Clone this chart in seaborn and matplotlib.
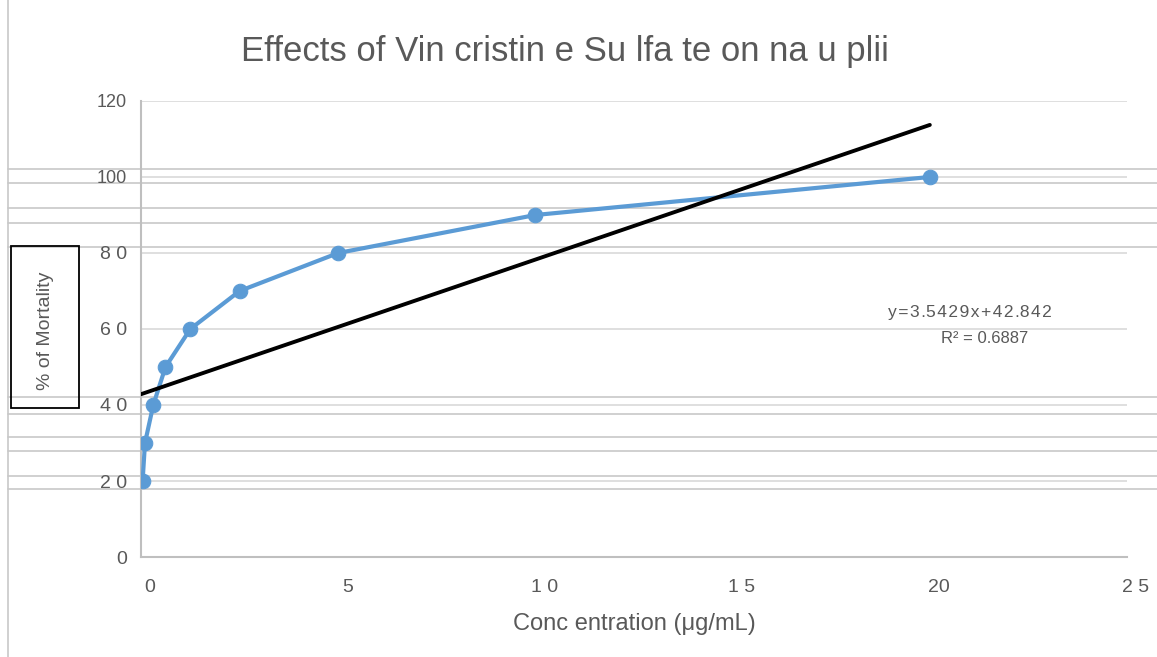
import numpy as np
import pandas as pd
import matplotlib
matplotlib.use("Agg")
import matplotlib.pyplot as plt
import matplotlib.transforms as mtransforms
from matplotlib.lines import Line2D
from matplotlib.patches import Rectangle
import seaborn as sns

# data
conc = [0.04, 0.1, 0.31, 0.62, 1.25, 2.5, 5, 10, 20]
mortality = [20, 30, 40, 50, 60, 70, 80, 90, 100]

# trendline as printed on the chart
slope = 3.5429
intercept = 42.842
r2 = 0.6887

x_ticks = [0, 5, 10, 15, 20, 25]
x_tick_labels = ["0", "5", "1 0", "1 5", "20", "2 5"]
y_ticks = [0, 20, 40, 60, 80, 100, 120]
y_tick_labels = ["0", "2 0", "4 0", "6 0", "8 0", "100", "120"]

# stray horizontal lines from the scanned page
ghost_lines = [102.1, 98.4, 91.8, 87.9, 81.6, 42.1, 37.6, 31.6, 27.9, 21.3, 17.9]

df = pd.DataFrame({"conc": conc, "mortality": mortality})

sns.set_style("white")
plt.rcParams["font.family"] = ["Liberation Sans", "DejaVu Sans"]

grey = "#595959"
fig = plt.figure(figsize=(11.57, 6.57), dpi=100)
ax = fig.add_axes([0.1219, 0.1522, 0.8522, 0.6941])

ax.set_xlim(0, 25)
ax.set_ylim(0, 120)

for y in y_ticks[1:]:
    ax.axhline(y, color="#D9D9D9", lw=1.2, zorder=0)
for y in ghost_lines:
    ax.axhline(y, xmin=-0.135, xmax=1.19, color="#C8C8C8", lw=1.2, zorder=0, clip_on=False)

sns.lineplot(data=df, x="conc", y="mortality", ax=ax, color="#5B9BD5", lw=3,
             marker="o", markersize=10.5, markeredgecolor="#5B9BD5", zorder=3)

xt = np.array([0, conc[-1]])
ax.plot(xt, slope * xt + intercept, color="black", lw=2.8, zorder=4)

ax.set_xticks(x_ticks)
ax.set_xticklabels(x_tick_labels, fontsize=14, color=grey)
ax.set_yticks(y_ticks)
ax.set_yticklabels(y_tick_labels, fontsize=14, color=grey)
for lab in ax.get_yticklabels()[-2:]:
    lab.set_fontsize(13)
ax.tick_params(length=0)
ax.tick_params(axis="x", pad=16)
ax.tick_params(axis="y", pad=10)
offset = mtransforms.ScaledTranslation(0.09, 0, fig.dpi_scale_trans)
for lab in ax.get_xticklabels():
    lab.set_transform(lab.get_transform() + offset)

for side in ["top", "right"]:
    ax.spines[side].set_visible(False)
for side in ["left", "bottom"]:
    ax.spines[side].set_color("#BFBFBF")
    ax.spines[side].set_linewidth(1.5)

ax.set_xlabel("Conc entration (μg/mL)", fontsize=17, color=grey, labelpad=12)
ax.set_ylabel("")

fig.text(0.488, 0.922, "Effects of Vin cristin e Su lfa te on na u plii",
         fontsize=25, color=grey, ha="center", va="center")

fig.text(0.0389, 0.497, "% of Mortality", fontsize=14, color=grey,
         rotation=90, ha="center", va="center")
fig.add_artist(Rectangle((11 / 1157, 1 - 408 / 657), 68 / 1157, 162 / 657,
                         fill=False, edgecolor="black", lw=1.3))
fig.add_artist(Line2D([8 / 1157, 8 / 1157], [0, 1], color="#C8C8C8", lw=1.2))

eq = "y = 3 .5 4 2 9 x + 4 2 .8 4 2".replace(" ", "\u200a")
ax.text(0.841, 0.537, eq, transform=ax.transAxes,
        fontsize=12.5, color=grey, ha="center", va="center",
        family=["Liberation Sans", "DejaVu Sans"])
ax.text(0.856, 0.480, "R² = %.4f" % r2, transform=ax.transAxes,
        fontsize=12, color=grey, ha="center", va="center")

fig.savefig("out.png", dpi=100)
